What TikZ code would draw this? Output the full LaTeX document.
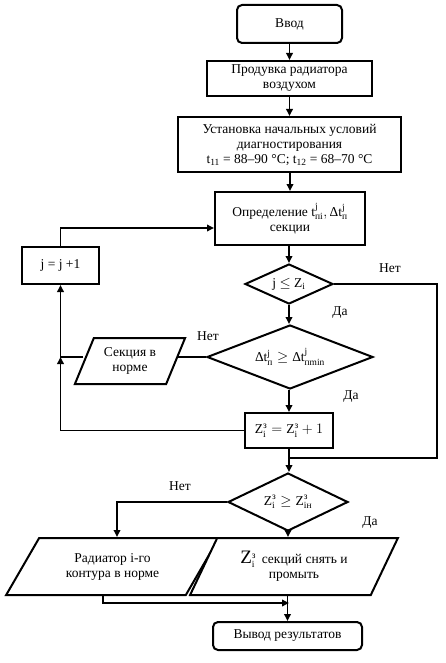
\documentclass[tikz,border=0pt]{standalone}
\usepackage{amsmath}
\usepackage{fontspec}
\setmainfont{Liberation Serif}
\usetikzlibrary{arrows.meta,shapes.geometric}
\tikzset{
  every node/.style={font=\fontsize{13.5}{15}\selectfont},
  box/.style={draw,line width=2pt,fill=white,align=center,inner sep=0pt},
  rbox/.style={box,rounded corners=5pt},
  dia/.style={draw,line width=2pt,fill=white,shape=diamond,inner sep=0pt,align=center},
  para/.style={draw,line width=2pt,fill=white,shape=trapezium,trapezium stretches=true,inner sep=0pt,align=center},
  conn/.style={line width=1.8pt},
  arr/.style={conn,-{Triangle[length=7pt,width=6.5pt]}},
  lbl/.style={inner sep=0pt}
}
\begin{document}
\begin{tikzpicture}[x=1pt,y=-1pt]
\useasboundingbox (0,0) rectangle (446,663);
\node[rbox,minimum width=105pt,minimum height=38pt] (vvod) at (289.5,24) {Ввод};
\node[box,minimum width=165pt,minimum height=35pt] (prod) at (289.5,78.5) {Продувка радиатора\\воздухом};
\node[box,minimum width=223pt,minimum height=55pt] (ust) at (289.5,144.5) {Установка начальных условий\\диагностирования\\t\textsubscript{11} = 88–90 °C; t\textsubscript{12} = 68–70 °C};
\node[box,minimum width=150pt,minimum height=53pt] (opr) at (290,218.5) {Определение $\text{t}^{\text{j}}_{\text{пі}},\text{Δt}^{\text{j}}_{\text{п}}$\\секции};
\node[box,minimum width=77pt,minimum height=37pt] (jj) at (60.5,265.5) {j = j +1};
\node[dia,minimum width=88pt,minimum height=40pt,aspect=2.2] (d1) at (289,284) {j $\leq$ Z$_{\text{i}}$};
\node[dia,minimum width=166pt,minimum height=64pt,aspect=2.6] (d2) at (290,357) {$\text{Δt}^{\text{j}}_{\text{п}} \geq \text{Δt}^{\text{j}}_{\text{пmin}}$};
\node[para,trapezium left angle=63,trapezium right angle=117,minimum width=111pt,minimum height=46pt] (sek) at (130,361) {Секция в\\норме};
\node[box,minimum width=88pt,minimum height=35pt] (zbox) at (289,430.5) {$\text{Z}^{\text{з}}_{\text{i}} = \text{Z}^{\text{з}}_{\text{i}} + 1$};
\node[dia,minimum width=120pt,minimum height=58pt,aspect=2.1] (d3) at (288,502) {$\text{Z}^{\text{з}}_{\text{i}} \geq \text{Z}^{\text{з}}_{\text{iн}}$};
\node[para,trapezium left angle=52,trapezium right angle=128,minimum width=213pt,minimum height=57pt] (rad) at (112.5,566.5) {Радиатор і-го\\контура в норме};
\node[para,trapezium left angle=58,trapezium right angle=122,minimum width=208pt,minimum height=57pt] (zs) at (294,566.5) {{\fontsize{19}{19}\selectfont Z}$^{\text{з}}_{\text{i}}$ \,секций снять и\\промыть};
\node[rbox,minimum width=149pt,minimum height=28pt] (vyv) at (287.5,636) {Вывод результатов};
% coordinates
\coordinate (rc) at (437,458);
\coordinate (m1) at (289,458);
\coordinate (j1) at (jj.south |- d2.west);
\coordinate (m2) at (289,603);
% connectors
\draw[arr] (vvod) -- (prod);
\draw[arr] (prod) -- (ust);
\draw[arr] (ust.south -| opr.north) -- (opr.north);
\draw[arr] (opr.south -| d1.north) -- (d1.north);
\draw[arr] (d1.south) -- (d2.north -| d1.south);
\draw[arr] (d2.south -| zbox.north) -- (zbox.north);
\draw[conn] (d1.east) -| (rc) -- (m1);
\draw[arr] (zbox.south) -- (d3.north -| zbox.south);
\draw[conn] (d2.west) -- (d2.west -| sek.east);
\draw[arr] (sek.west |- d2.west) -| (jj.south);
\draw[arr] (zbox.west) -| (j1);
\draw[arr] (jj.north) |- ([yshift=-9.5pt]opr.west);
\draw[arr] (d3.west) -| ([xshift=4.5pt]rad.north);
\draw[arr] (d3.south) -- (d3.south |- zs.north);
\draw[arr] ([xshift=-9.5pt]rad.south) |- (m2);
\draw[arr] (zs.south -| vyv.north) -- (vyv.north);
% labels
\node[lbl] (l1) at (390,268) {Нет};
\node[lbl] (l2) at (340,313) {Да};
\node[lbl] (l3) at (208,336) {Нет};
\node[lbl] (l4) at (351,397) {Да};
\node[lbl] (l5) at (180,486) {Нет};
\node[lbl] (l6) at (370,523) {Да};
\end{tikzpicture}
\end{document}
